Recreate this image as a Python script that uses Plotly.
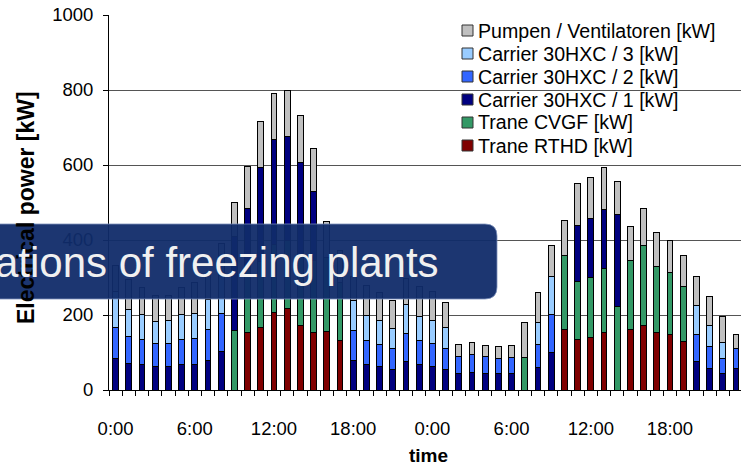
import plotly.graph_objects as go

# ---------------- data ----------------
hours = list(range(48))
tick_positions = [0, 6, 12, 18, 24, 30, 36, 42]
tick_labels = ["0:00", "6:00", "12:00", "18:00", "0:00", "6:00", "12:00", "18:00"]

trane_rthd = [0, 0, 0, 0, 0, 0, 0, 0, 0, 0, 154, 168, 208, 217, 172, 154, 156, 133,
              0, 0, 0, 0, 0, 0, 0, 0, 0, 0, 0, 0, 0, 0, 0, 0, 162, 135, 140, 153,
              0, 162, 171, 154, 147, 130, 0, 0, 0, 0]
trane_cvgf = [0, 0, 0, 0, 0, 0, 0, 0, 0, 159, 170, 175, 180, 183, 188, 191, 198, 155,
              0, 0, 0, 0, 0, 0, 0, 0, 0, 0, 0, 0, 0, 87, 0, 0, 198, 155, 160, 170,
              222, 183, 214, 175, 166, 147, 0, 0, 0, 0]
carrier_1 = [84, 71, 68, 62, 62, 68, 69, 80, 102, 251, 160, 251, 279, 275, 247, 185, 0, 0,
             79, 67, 62, 55, 76, 67, 62, 55, 45, 48, 45, 43, 44, 0, 60, 101, 0, 150, 158, 159,
             245, 0, 0, 0, 0, 0, 76, 58, 43, 57]
carrier_2 = [83, 72, 66, 61, 61, 66, 69, 81, 102, 0, 0, 0, 0, 0, 0, 0, 0, 0,
             80, 66, 60, 55, 75, 64, 62, 56, 45, 47, 45, 41, 43, 0, 61, 101, 0, 0, 0, 0,
             0, 0, 0, 0, 0, 0, 73, 57, 41, 54]
carrier_3 = [95, 73, 68, 60, 62, 68, 67, 81, 101, 0, 0, 0, 0, 0, 0, 0, 0, 0,
             81, 67, 63, 54, 76, 66, 62, 56, 0, 0, 0, 0, 0, 0, 59, 101, 0, 0, 0, 0,
             0, 0, 0, 0, 0, 0, 76, 57, 44, 0]
pumpen = [71, 79, 72, 69, 68, 72, 82, 68, 86, 90, 113, 122, 124, 125, 125, 114, 95, 85,
          62, 79, 75, 76, 71, 80, 78, 66, 31, 32, 30, 31, 31, 93, 80, 82, 91, 111, 108, 111,
          89, 91, 98, 91, 87, 83, 79, 77, 68, 37]

series = [
    ("Trane RTHD [kW]", trane_rthd, "#800000"),
    ("Trane CVGF [kW]", trane_cvgf, "#339966"),
    ("Carrier 30HXC / 1 [kW]", carrier_1, "#000080"),
    ("Carrier 30HXC / 2 [kW]", carrier_2, "#3366FF"),
    ("Carrier 30HXC / 3 [kW]", carrier_3, "#99CCFF"),
    ("Pumpen / Ventilatoren [kW]", pumpen, "#C0C0C0"),
]

y_title = "Electrical power [kW]"
x_title = "time"
banner_text = "ations of freezing plants"

# ---------------- layout geometry ----------------
W_FIG, H_FIG = 741, 469
L, T = 109, 15
PW, PH = W_FIG - L, 375
B = H_FIG - T - PH
CAT_PX = 13.2
FONT = "Liberation Sans"


def px(x):
    return (x - L) / PW


def py(y):
    return (T + PH - y) / PH


fig = go.Figure()
for name, vals, col in series:
    fig.add_trace(go.Bar(
        x=hours, y=[v if v else None for v in vals], name=name,
        marker=dict(color=col, line=dict(color="black", width=1)),
        width=0.45, showlegend=False,
    ))

x_max = -0.5 + PW / CAT_PX

shapes = []
# legend background (hides gridlines)
shapes.append(dict(type="rect", xref="paper", yref="paper", x0=px(435), x1=1.0,
                   y0=py(160), y1=py(17), fillcolor="white", line=dict(width=0),
                   layer="between"))

annotations = []
# manual legend, top to bottom
legend_rows = list(reversed(series))
row_y0, row_dy = 30.5, 23
for i, (name, vals, col) in enumerate(legend_rows):
    yc = row_y0 + i * row_dy
    shapes.append(dict(type="rect", xref="paper", yref="paper",
                       x0=px(462), x1=px(473), y0=py(yc + 5.5), y1=py(yc - 5.5),
                       fillcolor=col, line=dict(color="#333333", width=1), layer="above"))
    annotations.append(dict(text=name, xref="paper", yref="paper", x=px(476), y=py(yc),
                            xanchor="left", yanchor="middle", showarrow=False,
                            font=dict(family=FONT, size=19.6, color="black")))

# axis titles
annotations.append(dict(text="<b>%s</b>" % y_title, xref="paper", yref="paper",
                        x=px(26), y=py(208), textangle=-90, xanchor="center",
                        yanchor="middle", showarrow=False,
                        font=dict(family=FONT, size=23, color="black")))
annotations.append(dict(text="<b>%s</b>" % x_title, xref="paper", yref="paper",
                        x=px(428), y=py(455), xanchor="center", yanchor="middle",
                        showarrow=False, font=dict(family=FONT, size=19, color="black")))

# overlay banner with rounded right corners
bx0, bx1, by0, by1, r = -10, 497, 224, 299, 12
path = ("M {a},{t} L {b},{t} Q {c},{t} {c},{t2} L {c},{b2} Q {c},{bb} {b},{bb} "
        "L {a},{bb} Z").format(a=px(bx0), b=px(bx1 - r), c=px(bx1), t=py(by0),
                                t2=py(by0 + r), b2=py(by1 - r), bb=py(by1))
shapes.append(dict(type="path", xref="paper", yref="paper", path=path,
                   fillcolor="rgb(16,44,106)", opacity=0.95,
                   line=dict(color="rgba(120,140,185,0.8)", width=1), layer="above"))
annotations.append(dict(text=banner_text, xref="paper", yref="paper", x=px(441),
                        y=py(262), xanchor="right", yanchor="middle", showarrow=False,
                        font=dict(family=FONT, size=42, color="#f0f0f0")))

fig.update_layout(
    width=W_FIG, height=H_FIG,
    margin=dict(l=L, r=0, t=T, b=B, pad=0),
    paper_bgcolor="white", plot_bgcolor="white",
    barmode="stack",
    font=dict(family=FONT, size=18.5, color="black"),
    shapes=shapes, annotations=annotations,
    xaxis=dict(range=[-0.5, x_max], tickmode="array", tickvals=tick_positions,
               ticktext=tick_labels, ticks="", showgrid=False, zeroline=False,
               showline=True, linecolor="black", linewidth=1,
               ticklabelstandoff=22,
               minor=dict(tickmode="linear", tick0=-0.5, dtick=1, ticks="outside",
                          ticklen=5, tickcolor="black", tickwidth=1, showgrid=False),
               tickfont=dict(family=FONT, size=18.5, color="black")),
    yaxis=dict(range=[0, 1000], tickmode="linear", tick0=0, dtick=200,
               ticks="outside", ticklen=5, tickcolor="black",
               showline=True, linecolor="black", linewidth=1,
               showgrid=True, gridcolor="#555555", gridwidth=1, zeroline=False,
               ticklabelstandoff=6,
               tickfont=dict(family=FONT, size=18.5, color="black")),
)

fig.write_html("out.html")
